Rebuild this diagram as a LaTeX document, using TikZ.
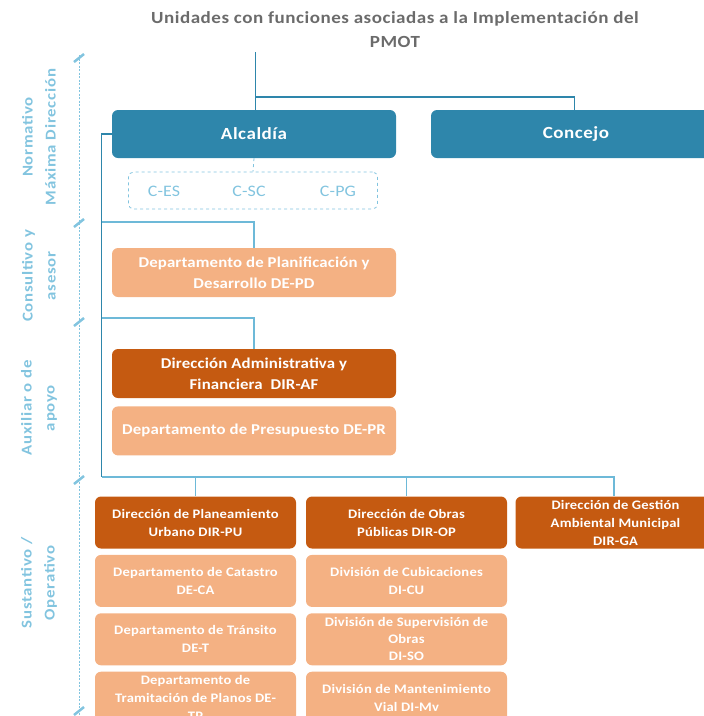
\documentclass[tikz,border=0pt]{standalone}
\usepackage{fontspec}
\setmainfont{Carlito}
\usepackage{tikz}
\usetikzlibrary{positioning}

\definecolor{alcblue}{HTML}{2E86AB}
\definecolor{lineblue}{HTML}{6DB9D8}
\definecolor{paleblue}{HTML}{82C4DF}
\definecolor{dirorange}{HTML}{C55A11}
\definecolor{deporange}{HTML}{F4B183}
\definecolor{titlegray}{HTML}{6B6B6B}

\newfontfamily\wideface[FakeStretch=1.12]{Carlito}

\begin{document}
\begin{tikzpicture}[x=1pt,y=-1pt, % pixel grid, y grows downwards
		head/.style={rectangle,rounded corners=6pt,fill=alcblue,text=white,inner sep=0pt,
			minimum width=284pt,minimum height=48pt,
			font=\wideface\fontsize{17}{20}\selectfont\bfseries\addfontfeature{LetterSpace=3}},
		upperdir/.style={rectangle,rounded corners=6pt,fill=dirorange,text=white,inner sep=0pt,align=center,
			minimum width=284pt,minimum height=49pt,
			font=\wideface\fontsize{15}{21}\selectfont\bfseries\addfontfeature{LetterSpace=1}},
		upperdep/.style={upperdir,fill=deporange},
		dirbox/.style={rectangle,rounded corners=6pt,fill=dirorange,text=white,inner sep=0pt,align=center,
			minimum width=201pt,minimum height=52pt,
			font=\wideface\fontsize{13}{18}\selectfont\bfseries\addfontfeature{LetterSpace=1.5}},
		depbox/.style={dirbox,fill=deporange,minimum height=52pt},
		level/.style={rotate=90,align=center,text=paleblue,
			font=\wideface\fontsize{15}{23}\selectfont\bfseries\addfontfeature{LetterSpace=5}},
		council/.style={text=paleblue,font=\wideface\fontsize{16}{18}\selectfont\addfontfeature{LetterSpace=1}},
		tick/.style={paleblue,line width=2.5pt},
		trunkline/.style={alcblue,line width=1.8pt},
		branch/.style={lineblue,line width=1.8pt},
		node distance=6pt
	]
	\useasboundingbox (0,0) rectangle (704,716);

	% title
	\node[text=titlegray,align=center,
		font=\wideface\fontsize{17}{24}\selectfont\bfseries\addfontfeature{LetterSpace=3}] (title) at (395,30)
		{Unidades con funciones asociadas a la Implementación del\\PMOT};

	% level scale on the left
	\draw[paleblue,dashed,dash pattern=on 2pt off 1.5pt,line width=0.7pt] (79,55) -- (79,716);
	\foreach \y in {58,223,322,480,711}
		\draw[tick] (74,\y+4) -- (84,\y-4);
	\node[level] (lvnorm) at (39,137) {Normativo\\Máxima Dirección};
	\node[level] (lvcons) at (39,276) {Consultivo y\\asesor};
	\node[level] (lvaux) at (39,408) {Auxiliar o de\\apoyo};
	\node[level] (lvsust) at (39,583) {Sustantivo /\\Operativo};

	% units
	\node[head] (alcaldia) at (254,134) {Alcaldía};
	\node[head,minimum width=290pt] (concejo) at (576,134) {Concejo};
	\node[rectangle,rounded corners=5pt,draw=paleblue,dashed,line width=0.8pt,
		minimum width=249pt,minimum height=37pt] (consejos) at (253,190.5) {};
	\node[council] (ces) at (164,191) {C-ES};
	\node[council] (csc) at (249,191) {C-SC};
	\node[council] (cpg) at (338,191) {C-PG};

	\node[upperdep] (depd) at (254,272.5) {Departamento de Planificación y\\Desarrollo DE-PD};
	\node[upperdir] (diraf) at (254,373.5) {Dirección Administrativa y\\Financiera\ \ DIR-AF};
	\node[upperdep,below=8pt of diraf] (depr) {Departamento de Presupuesto DE-PR};

	\node[dirbox] (dirpu) at (195.5,522.5) {Dirección de Planeamiento\\Urbano DIR-PU};
	\node[depbox,below=of dirpu] (deca) {Departamento de Catastro\\DE-CA};
	\node[depbox,below=of deca] (det) {Departamento de Tránsito\\DE-T};
	\node[depbox,below=of det] (detp) {Departamento de\\Tramitación de Planos DE-\\TP};

	\node[dirbox] (dirop) at (406.5,522.5) {Dirección de Obras\\Públicas DIR-OP};
	\node[depbox,below=of dirop] (dicu) {División de Cubicaciones\\DI-CU};
	\node[depbox,below=of dicu,font=\wideface\fontsize{13}{17}\selectfont\bfseries\addfontfeature{LetterSpace=1.5}] (diso)
		{División de Supervisión de\\Obras\\DI-SO};
	\node[depbox,below=of diso] (dimv) {División de Mantenimiento\\Vial DI-Mv};

	\node[dirbox,minimum width=200pt] (dirga) at (615.5,522.5) {Dirección de Gestión\\Ambiental Municipal\\DIR-GA};

	% connectors
	\coordinate (top) at (255.5,52);
	\coordinate (split) at (255.5,97);
	\coordinate (trunk) at (101.5,477);
	\coordinate (b1) at (101.5,222);
	\coordinate (b2) at (101.5,318);

	\draw[trunkline] (top) -- (alcaldia.north -| top);
	\draw[trunkline] (split) -| (concejo.north -| 574.5,0);
	\draw[paleblue,dashed,line width=0.8pt] (alcaldia.south) -- (consejos.north);
	\draw[trunkline] (alcaldia.west) -| (trunk);
	\draw[branch] (b1) -| (depd.north);
	\draw[branch] (b2) -| (diraf.north);
	\draw[branch] (trunk) -| (dirga.north -| 614,0);
	\foreach \n in {dirpu,dirop}
		\draw[branch] (trunk -| \n.north) -- (\n.north);
\end{tikzpicture}
\end{document}
